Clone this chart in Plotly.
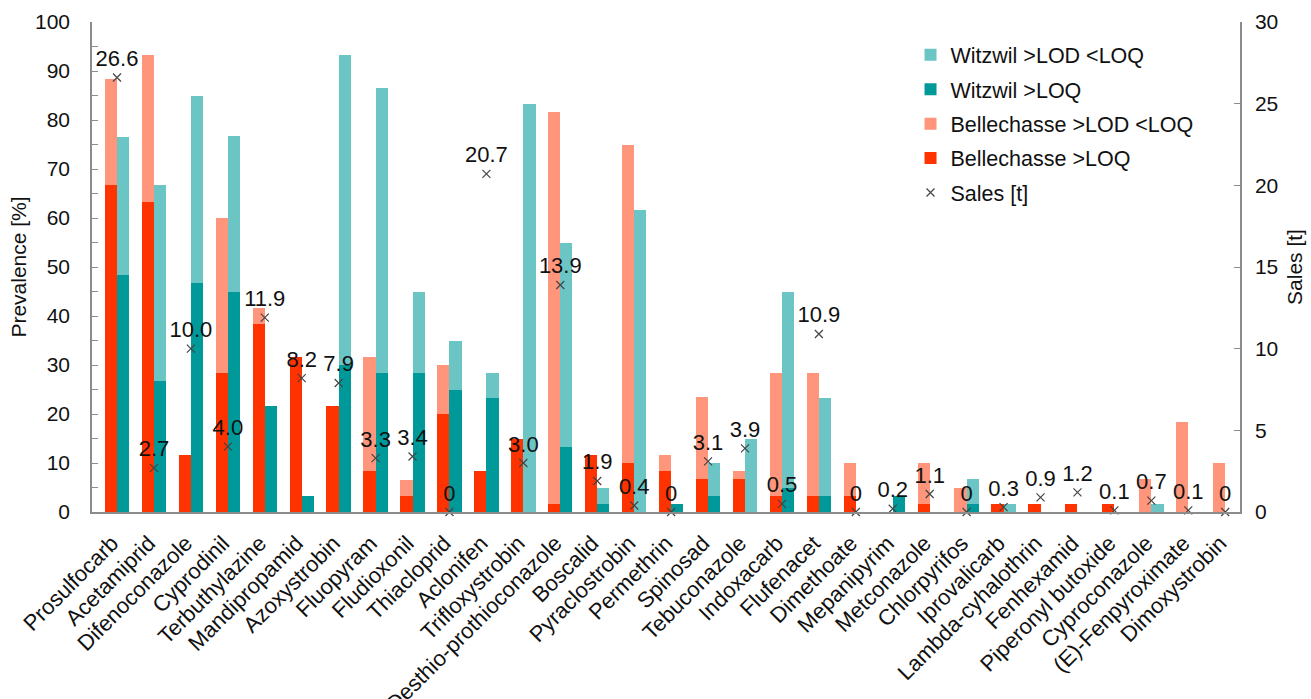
import plotly.graph_objects as go

categories = ["Prosulfocarb", "Acetamiprid", "Difenoconazole", "Cyprodinil", "Terbuthylazine",
              "Mandipropamid", "Azoxystrobin", "Fluopyram", "Fludioxonil", "Thiacloprid",
              "Aclonifen", "Trifloxystrobin", "Desthio-prothioconazole", "Boscalid", "Pyraclostrobin",
              "Permethrin", "Spinosad", "Tebuconazole", "Indoxacarb", "Flufenacet", "Dimethoate",
              "Mepanipyrim", "Metconazole", "Chlorpyrifos", "Iprovalicarb", "Lambda-cyhalothrin",
              "Fenhexamid", "Piperonyl butoxide", "Cyproconazole", "(E)-Fenpyroximate", "Dimoxystrobin"]

# Prevalence [%] - stacked segments
bellechasse_loq = [66.7, 63.3, 11.7, 28.3, 38.3, 31.7, 21.7, 8.3, 3.3, 20.0, 8.3, 15.0, 1.7, 11.7, 10.0,
                   8.3, 6.7, 6.7, 3.3, 3.3, 3.3, 0, 1.7, 0, 1.7, 1.7, 1.7, 1.7, 0, 0, 0]
bellechasse_lod = [21.7, 30.0, 0, 31.7, 3.3, 0, 0, 23.3, 3.3, 10.0, 0, 0, 80.0, 0, 65.0,
                   3.3, 16.7, 1.7, 25.0, 25.0, 6.7, 0, 8.3, 5.0, 0, 0, 0, 0, 6.7, 18.3, 10.0]
witzwil_loq = [48.3, 26.7, 46.7, 45.0, 21.7, 3.3, 30.0, 28.3, 28.3, 25.0, 23.3, 0, 13.3, 1.7, 0,
               1.7, 3.3, 0, 5.0, 3.3, 0, 3.3, 0, 1.7, 0, 0, 0, 0, 0, 0, 0]
witzwil_lod = [28.3, 40.0, 38.3, 31.7, 0, 0, 63.3, 58.3, 16.7, 10.0, 5.0, 83.3, 41.7, 3.3, 61.7,
               0, 6.7, 15.0, 40.0, 20.0, 0, 0, 0, 5.0, 1.7, 0, 0, 0, 1.7, 0, 0]

# Sales [t]
sales = [26.6, 2.7, 10.0, 4.0, 11.9, 8.2, 7.9, 3.3, 3.4, 0, 20.7, 3.0, 13.9, 1.9, 0.4, 0, 3.1, 3.9,
         0.5, 10.9, 0, 0.2, 1.1, 0, 0.3, 0.9, 1.2, 0.1, 0.7, 0.1, 0]
sales_labels = ["26.6", "2.7", "10.0", "4.0", "11.9", "8.2", "7.9", "3.3", "3.4", "0", "20.7", "3.0",
                "13.9", "1.9", "0.4", "0", "3.1", "3.9", "0.5", "10.9", "0", "0.2", "1.1", "0", "0.3",
                "0.9", "1.2", "0.1", "0.7", "0.1", "0"]

FONT = "Liberation Sans, Arial, sans-serif"
FS = 21
C_WL = "#6cc5c5"
C_WQ = "#009999"
C_BL = "#ff957a"
C_BQ = "#ff3300"
W = 0.33
idx = list(range(len(categories)))

fig = go.Figure()
fig.add_trace(go.Bar(x=idx, y=witzwil_lod, base=witzwil_loq, offset=0, width=W,
                     marker=dict(color=C_WL, line_width=0), name="Witzwil >LOD <LOQ", legendgroup="a"))
fig.add_trace(go.Bar(x=idx, y=witzwil_loq, offset=0, width=W,
                     marker=dict(color=C_WQ, line_width=0), name="Witzwil >LOQ", legendgroup="b"))
fig.add_trace(go.Bar(x=idx, y=bellechasse_lod, base=bellechasse_loq, offset=-W, width=W,
                     marker=dict(color=C_BL, line_width=0), name="Bellechasse >LOD <LOQ", legendgroup="c"))
fig.add_trace(go.Bar(x=idx, y=bellechasse_loq, offset=-W, width=W,
                     marker=dict(color=C_BQ, line_width=0), name="Bellechasse >LOQ", legendgroup="d"))
fig.add_trace(go.Scatter(x=idx, y=sales, yaxis="y2", mode="markers+text", text=sales_labels,
                         textposition="top center", textfont=dict(size=22, color="#111111", family=FONT),
                         marker=dict(symbol="x-thin-open", size=8, color="#444444", line=dict(width=1.2, color="#444444")),
                         name="Sales [t]", legendgroup="e", cliponaxis=False))

axis_line = "#8c8c8c"
fig.update_layout(
    width=1311, height=699,
    margin=dict(l=92, r=71, t=22, b=187),
    paper_bgcolor="white", plot_bgcolor="white",
    font=dict(family=FONT, size=FS, color="#111111"),
    barmode="overlay",
    bargap=0,
    showlegend=True,
    legend=dict(x=0.713, y=0.975, xanchor="left", yanchor="top", traceorder="grouped",
                tracegroupgap=3.5, font=dict(size=21.5, family=FONT), bgcolor="rgba(0,0,0,0)"),
    xaxis=dict(range=[-0.677, 30.40], tickmode="array", tickvals=idx, ticktext=categories,
               tickangle=-45, showline=True, linecolor=axis_line, linewidth=1.5, ticks="",
               showgrid=False, zeroline=False, tickfont=dict(size=22), automargin=False,
               ticklabelstandoff=8, ticklabelshift=-5),
    yaxis=dict(range=[0, 100], dtick=10, showline=True, linecolor=axis_line, linewidth=1.5,
               ticks="inside", ticklen=6, tickcolor=axis_line, showgrid=False, zeroline=False,
               minor=dict(dtick=5, ticks="inside", ticklen=6, tickcolor=axis_line),
               ticklabelstandoff=16, automargin=False,
               title=dict(text="Prevalence [%]", standoff=3, font=dict(size=FS))),
    yaxis2=dict(range=[0, 30], dtick=5, overlaying="y", side="right", showline=True,
                linecolor=axis_line, linewidth=1.5, ticks="inside", ticklen=6, tickcolor=axis_line,
                showgrid=False, zeroline=False, ticklabelstandoff=9, automargin=False,
                title=dict(text="Sales [t]", standoff=10, font=dict(size=FS))),
)

fig.write_html("out.html")
